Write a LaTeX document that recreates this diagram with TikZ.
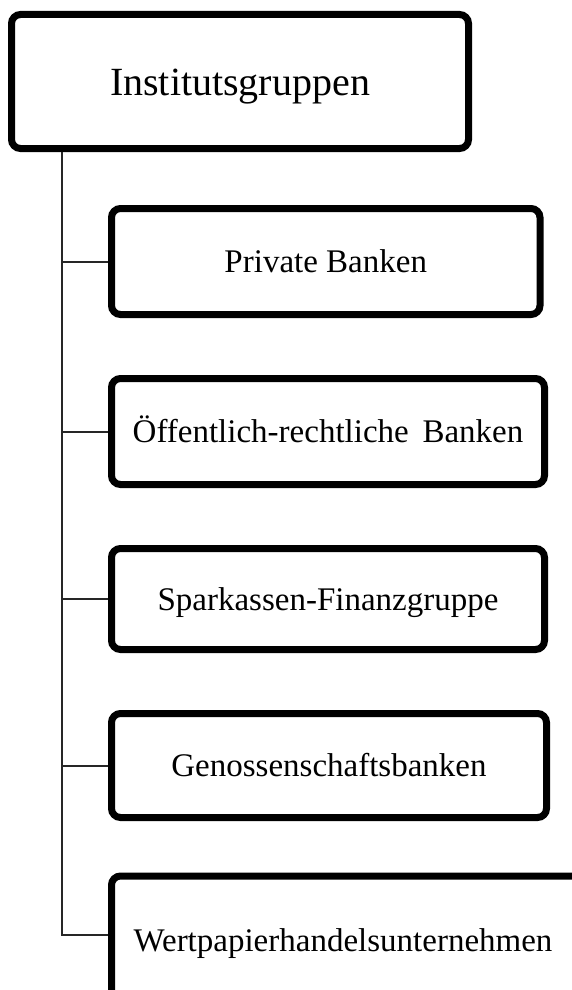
\documentclass[tikz,border=0pt]{standalone}
\usepackage{fontspec}
\setmainfont{Liberation Serif}
\tikzset{
  boxbase/.style={draw=black, line width=7pt, rounded corners=9pt, fill=white, inner sep=0pt, align=center},
  titlebox/.style={boxbase, font=\fontsize{40}{48}\selectfont, text height=27pt, text depth=0pt},
  itembox/.style={boxbase, font=\fontsize{33}{40}\selectfont, text height=22pt, text depth=0pt},
  conn/.style={draw=black!85, line width=2pt}
}
\begin{document}
\begin{tikzpicture}[x=1pt,y=-1pt]
\useasboundingbox (0,0) rectangle (572,990);
\node[titlebox, minimum width=457pt, minimum height=134pt] (top) at (240,81.5) {Institutsgruppen};
\node[itembox, minimum width=428.5pt, minimum height=106pt] (b1) at (325.75,261.5) {Private Banken};
\node[itembox, minimum width=433pt, minimum height=106pt] (b2) at (328,431.5) {Öffentlich-rechtliche\, Banken};
\node[itembox, minimum width=433pt, minimum height=101pt] (b3) at (328,599) {Sparkassen-Finanzgruppe};
\node[itembox, minimum width=435pt, minimum height=104pt] (b4) at (329,765.5) {Genossenschaftsbanken};
\node[itembox, minimum width=475pt, minimum height=128pt] (b5) at (349,940) {\hspace*{-12pt}Wertpapierhandelsunternehmen};
\coordinate (t0) at ([xshift=54pt]top.south west);
\draw[conn] (t0) |- (b5.west |- 0,935);
\draw[conn] (t0 |- b1.west) -- (b1.west);
\draw[conn] (t0 |- b2.west) -- (b2.west);
\draw[conn] (t0 |- b3.west) -- (b3.west);
\draw[conn] (t0 |- b4.west) -- (b4.west);
\end{tikzpicture}
\end{document}
